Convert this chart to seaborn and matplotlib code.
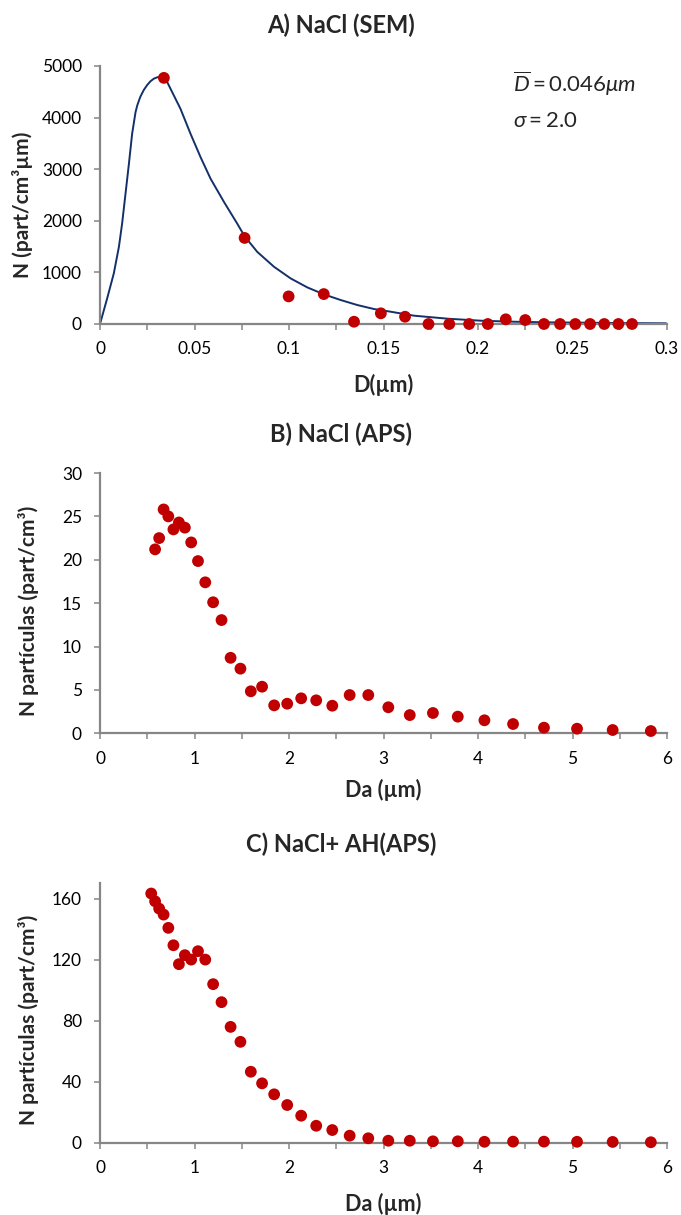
import numpy as np
import pandas as pd
import matplotlib
matplotlib.use("Agg")
import matplotlib.pyplot as plt
from matplotlib.ticker import MultipleLocator
import seaborn as sns

# ---------------- data ----------------
# Panel A: SEM measured points
sem_d = [0.0338, 0.0765, 0.0998, 0.1184, 0.1344, 0.1486, 0.1614, 0.1738, 0.1848,
         0.1953, 0.2052, 0.2147, 0.2250, 0.2349, 0.2434, 0.2515, 0.2593, 0.2668,
         0.2743, 0.2815]
sem_n = [4770, 1668, 535, 580, 44, 207, 141, 0, 0,
         0, 0, 91, 77, 0, 0, 0, 0, 0,
         0, 0]
# Panel A: fitted log-normal curve
fit_d = [0.0, 0.0038, 0.0073, 0.0100, 0.0117, 0.0135, 0.0153, 0.0170, 0.0188, 0.0197,
         0.0206, 0.0214, 0.0232, 0.0250, 0.0267, 0.0285, 0.0303, 0.0317, 0.0329, 0.0342,
         0.0356, 0.0391, 0.0426, 0.0479, 0.0532, 0.0585,
         0.0656, 0.0726, 0.0765, 0.0832, 0.0921, 0.1009, 0.1097, 0.1185, 0.1274, 0.1362,
         0.1450, 0.1538, 0.1662, 0.1839, 0.2015, 0.2191, 0.2368, 0.2545, 0.2721, 0.2995]
fit_n = [0, 497, 980, 1494, 1946, 2526, 3106, 3686, 4105, 4234,
         4330, 4408, 4537, 4633, 4704, 4755, 4781, 4794, 4781, 4755,
         4685, 4427, 4169, 3686, 3234, 2816,
         2365, 1946, 1701, 1398, 1108, 883, 709, 574, 464, 367,
         290, 238, 161, 103, 64, 44, 32, 26, 19, 13]

# Panel B: NaCl (APS)
aps_b_da = [0.583, 0.626, 0.673, 0.723, 0.777, 0.835, 0.898, 0.965, 1.037, 1.114,
            1.197, 1.286, 1.382, 1.486, 1.596, 1.715, 1.843, 1.981, 2.129, 2.288,
            2.458, 2.642, 2.839, 3.051, 3.278, 3.523, 3.786, 4.068, 4.371, 4.698,
            5.048, 5.425, 5.829]
aps_b_n = [21.2, 22.5, 25.8, 25.0, 23.5, 24.3, 23.7, 22.0, 19.85, 17.4,
           15.1, 13.05, 8.7, 7.45, 4.84, 5.37, 3.22, 3.41, 4.03, 3.8,
           3.18, 4.41, 4.41, 3.0, 2.1, 2.34, 1.92, 1.5, 1.07, 0.65,
           0.53, 0.38, 0.26]

# Panel C: NaCl + AH (APS)
aps_c_da = [0.542, 0.583, 0.626, 0.673, 0.723, 0.777, 0.835, 0.898, 0.965, 1.037,
            1.114, 1.197, 1.286, 1.382, 1.486, 1.596, 1.715, 1.843, 1.981, 2.129,
            2.288, 2.458, 2.642, 2.839, 3.051, 3.278, 3.523, 3.786, 4.068, 4.371,
            4.698, 5.048, 5.425, 5.829]
aps_c_n = [163.3, 158.2, 153.4, 149.5, 140.8, 129.4, 117.0, 122.9, 120.0, 125.5,
           120.0, 103.9, 92.1, 75.9, 66.1, 46.5, 38.9, 31.7, 24.7, 17.7,
           11.1, 8.3, 4.6, 2.9, 1.3, 1.3, 0.9, 0.9, 0.6, 0.7,
           0.7, 0.6, 0.5, 0.3]

titles = ["A) NaCl (SEM)", "B) NaCl (APS)", "C) NaCl+ AH(APS)"]
xlabels = ["D(\u00b5m)", "Da (\u00b5m)", "Da (\u00b5m)"]
ylabels = ["N (part/cm\u00b3\u00b5m)", "N part\u00edculas (part/cm\u00b3)", "N part\u00edculas (part/cm\u00b3)"]

# ---------------- style ----------------
sns.set_theme(style="white")
FONT = ["Lato", "DejaVu Sans"]
plt.rcParams["font.family"] = FONT
plt.rcParams["mathtext.fontset"] = "custom"
plt.rcParams["mathtext.rm"] = "Lato"
plt.rcParams["mathtext.it"] = "Lato:italic"
plt.rcParams["mathtext.bf"] = "Lato:bold"

RED = "#C00000"
NAVY = "#13306B"
GRAY = "#868686"
W, H = 681, 1215

fig = plt.figure(figsize=(W / 100, H / 100), dpi=100)


def add_axes(left, top, right, bottom):
    return fig.add_axes([left / W, 1 - bottom / H, (right - left) / W, (bottom - top) / H])


axA = add_axes(100, 66, 667, 324)
axB = add_axes(100, 473, 667, 733.3)
axC = add_axes(100, 883.3, 667, 1142.7)

dfA = pd.DataFrame({"D": sem_d, "N": sem_n})
dfFit = pd.DataFrame({"D": fit_d, "N": fit_n})
dfB = pd.DataFrame({"Da": aps_b_da, "N": aps_b_n})
dfC = pd.DataFrame({"Da": aps_c_da, "N": aps_c_n})

sns.lineplot(data=dfFit, x="D", y="N", ax=axA, color=NAVY, lw=1.4, sort=False,
             estimator=None, zorder=2)
sns.scatterplot(data=dfA, x="D", y="N", ax=axA, color=RED, s=72, edgecolor="none",
                zorder=3, clip_on=False)
sns.scatterplot(data=dfB, x="Da", y="N", ax=axB, color=RED, s=72, edgecolor="none",
                zorder=3, clip_on=False)
sns.scatterplot(data=dfC, x="Da", y="N", ax=axC, color=RED, s=72, edgecolor="none",
                zorder=3, clip_on=False)

axA.set_xlim(0, 0.3)
axA.set_ylim(0, 5000)
axA.xaxis.set_minor_locator(MultipleLocator(0.025))
axA.yaxis.set_major_locator(MultipleLocator(1000))
xt = [0, 0.05, 0.1, 0.15, 0.2, 0.25, 0.3]
axA.set_xticks(xt)
axA.set_xticklabels(["0", "0.05", "0.1", "0.15", "0.2", "0.25", "0.3"])

for ax, ymax, ystep in [(axB, 30, 5), (axC, 170, 40)]:
    ax.set_xlim(0, 6)
    ax.set_ylim(0, ymax)
    ax.xaxis.set_major_locator(MultipleLocator(1))
    ax.xaxis.set_minor_locator(MultipleLocator(0.5))
    ax.yaxis.set_major_locator(MultipleLocator(ystep))

for ax in (axA, axB, axC):
    sns.despine(ax=ax)
    ax.set_xlabel("")
    ax.set_ylabel("")
    for sp in ("left", "bottom"):
        ax.spines[sp].set_color(GRAY)
        ax.spines[sp].set_linewidth(1.6)
    ax.tick_params(axis="both", which="both", direction="out", color=GRAY, width=1.1,
                   length=4.0, labelsize=12.5, labelcolor="black", left=True, bottom=True)
    ax.tick_params(axis="x", which="both", pad=8.5)
    ax.tick_params(axis="y", which="both", pad=9)
    ax.grid(False)
    ax.set_facecolor("white")
    ax.patch.set_alpha(0)

axC.set_yticks([0, 40, 80, 120, 160])


def ftext(x, y, s, **kw):
    fig.text(x / W, 1 - y / H, s, **kw)


# titles
for s, yb in zip(titles, [33.5, 442, 852]):
    ftext(341, yb, s, ha="center", va="baseline", fontsize=17, fontweight="bold",
          family=FONT)
# x labels
for s, yb in zip(xlabels, [391.7, 796.7, 1211]):
    ftext(383.5, yb, s, ha="center", va="baseline", fontsize=15.5, fontweight="bold",
          family=FONT)
# y labels
for s, (xc, yc) in zip(ylabels, [(23, 205), (29, 611), (29, 1020)]):
    ftext(xc, yc, s, ha="center", va="center", rotation=90, fontsize=15,
          fontweight="bold", family=FONT)

# annotation in panel A
ftext(513, 91.7, r"$\overline{D}=0.046\mu m$", ha="left", va="baseline", fontsize=16)
ftext(513, 127, r"$\sigma=2.0$", ha="left", va="baseline", fontsize=16)

fig.savefig("out.png", dpi=100, facecolor="white")
